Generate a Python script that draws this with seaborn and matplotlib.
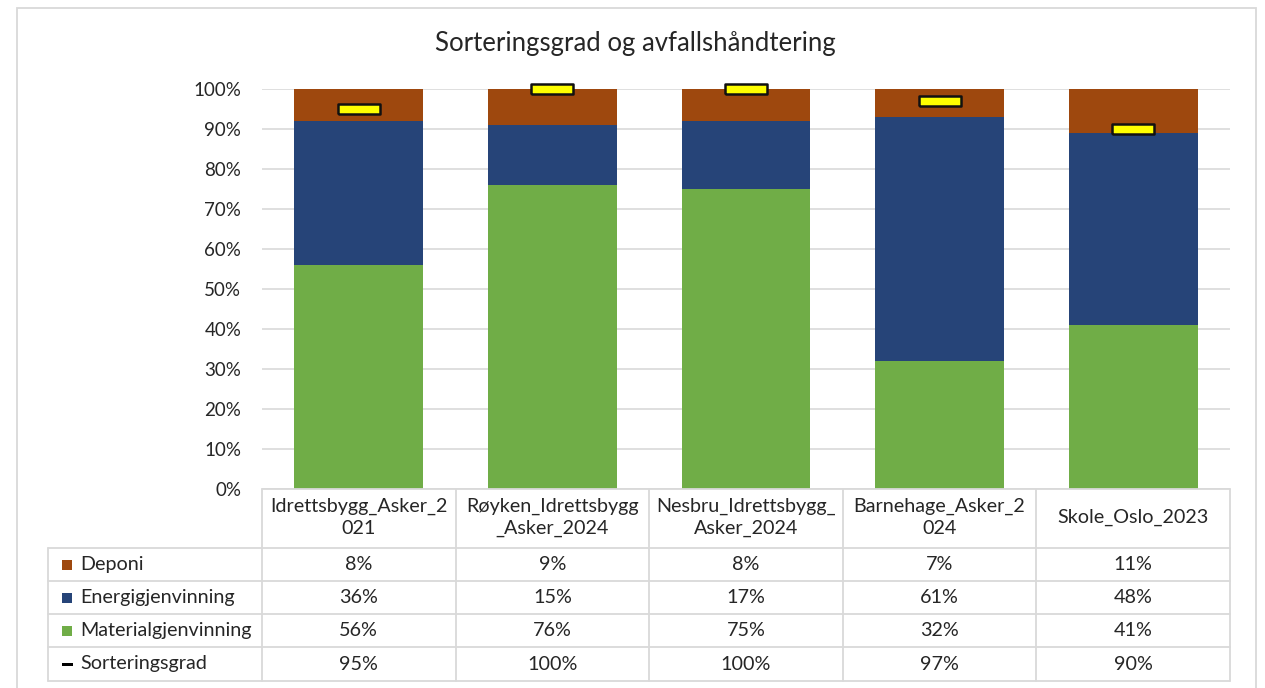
import matplotlib
matplotlib.use("Agg")
import matplotlib.pyplot as plt
import seaborn as sns
import pandas as pd
import numpy as np
from matplotlib.lines import Line2D
from matplotlib.patches import Rectangle

# ---------------- data ----------------
categories = ["Idrettsbygg_Asker_2021", "Røyken_Idrettsbygg_Asker_2024",
              "Nesbru_Idrettsbygg_Asker_2024", "Barnehage_Asker_2024", "Skole_Oslo_2023"]
header_labels = ["Idrettsbygg_Asker_2\n021", "Røyken_Idrettsbygg\n_Asker_2024",
                 "Nesbru_Idrettsbygg_\nAsker_2024", "Barnehage_Asker_2\n024", "Skole_Oslo_2023"]
deponi = [8, 9, 8, 7, 11]
energi = [36, 15, 17, 61, 48]
material = [56, 76, 75, 32, 41]
sortering = [95, 100, 100, 97, 90]
series_names = ["Deponi", "Energigjenvinning", "Materialgjenvinning", "Sorteringsgrad"]
yticks = [0, 10, 20, 30, 40, 50, 60, 70, 80, 90, 100]
title = "Sorteringsgrad og avfallshåndtering"

# ---------------- style ----------------
C_DEP = "#9E480E"
C_EN = "#264478"
C_MAT = "#70AD47"
C_SORT = "#FFFF00"
GRID = "#D9D9D9"
TXT = "#262626"

sns.set_theme(style="white")
plt.rcParams["font.family"] = ["Lato", "DejaVu Sans"]

W, H = 1265, 688
fig = plt.figure(figsize=(W / 100, H / 100), dpi=100)

def fx(x):
    return x / W

def fy(y):
    return 1 - y / H

L, R, T, B = 262, 1230, 89, 489
ax = fig.add_axes([fx(L), fy(B), (R - L) / W, (B - T) / H])

df = pd.DataFrame({"cat": categories, "dep": deponi, "en": energi, "mat": material})
df["top"] = df["dep"] + df["en"] + df["mat"]
df["mid"] = df["en"] + df["mat"]

bw = 0.665
sns.barplot(data=df, x="cat", y="top", color=C_DEP, saturation=1, width=bw, ax=ax, edgecolor="none")
sns.barplot(data=df, x="cat", y="mid", color=C_EN, saturation=1, width=bw, ax=ax, edgecolor="none")
sns.barplot(data=df, x="cat", y="mat", color=C_MAT, saturation=1, width=bw, ax=ax, edgecolor="none")

verts = [(-1, -0.25), (1, -0.25), (1, 0.25), (-1, 0.25), (-1, -0.25)]
ax.plot(np.arange(len(categories)), sortering, linestyle="none", marker=verts,
        markersize=30, markerfacecolor=C_SORT, markeredgecolor="#111111",
        markeredgewidth=1.8, clip_on=False, zorder=5)

ax.set_ylim(0, 100)
ax.set_xlim(-0.5, len(categories) - 0.5)
ax.set_yticks(yticks)
ax.set_yticklabels([f"{v}%" for v in yticks])
ax.set_xticks([])
ax.set_xlabel("")
ax.set_ylabel("")
ax.yaxis.grid(True, color=GRID, linewidth=1.2)
ax.xaxis.grid(False)
ax.set_axisbelow(True)
for s in ax.spines.values():
    s.set_visible(False)
ax.tick_params(axis="y", length=0, pad=15, labelsize=13.5, labelcolor=TXT)

# ---------------- title ----------------
fig.text(fx(635), fy(44), title, ha="center", va="center", fontsize=18.5, color=TXT)

# ---------------- data table ----------------
def hline(x0, x1, y):
    fig.add_artist(Line2D([fx(x0), fx(x1)], [fy(y), fy(y)], color=GRID, lw=1.3))

def vline(x, y0, y1):
    fig.add_artist(Line2D([fx(x), fx(x)], [fy(y0), fy(y1)], color=GRID, lw=1.3))

ncol = len(categories)
colw = (R - L) / ncol
TL = 48
rows_y = [548, 581, 614, 647, 681]
hline(L, R, B)
for y in rows_y:
    hline(TL, R, y)
vline(TL, rows_y[0], rows_y[-1])
for i in range(ncol + 1):
    vline(L + i * colw, B, rows_y[-1])

fs = 14.2
for i, lab in enumerate(header_labels):
    fig.text(fx(L + (i + 0.5) * colw), fy((B + rows_y[0]) / 2 - 1), lab, ha="center", va="center",
             fontsize=fs, color=TXT, linespacing=1.35, multialignment="center")

row_values = [deponi, energi, material, sortering]
row_colors = [C_DEP, C_EN, C_MAT, None]
for r, (name, vals, col) in enumerate(zip(series_names, row_values, row_colors)):
    yc = (rows_y[r] + rows_y[r + 1]) / 2
    if col is not None:
        fig.add_artist(Rectangle((fx(62), fy(yc + 5)), 10 / W, 10 / H, facecolor=col,
                                 edgecolor="none", transform=fig.transFigure))
    else:
        fig.add_artist(Rectangle((fx(62), fy(yc + 1.5)), 11 / W, 3 / H, facecolor="black",
                                 edgecolor="none", transform=fig.transFigure))
    fig.text(fx(80), fy(yc), name, ha="left", va="center", fontsize=fs, color=TXT)
    for i, v in enumerate(vals):
        fig.text(fx(L + (i + 0.5) * colw), fy(yc), f"{v}%", ha="center", va="center",
                 fontsize=fs, color=TXT)

# outer chart border
fig.add_artist(Rectangle((fx(17), fy(700)), (1256 - 17) / W, (700 - 8) / H, facecolor="none",
                         edgecolor=GRID, lw=1.3, transform=fig.transFigure))

fig.savefig("out.png", dpi=100)
